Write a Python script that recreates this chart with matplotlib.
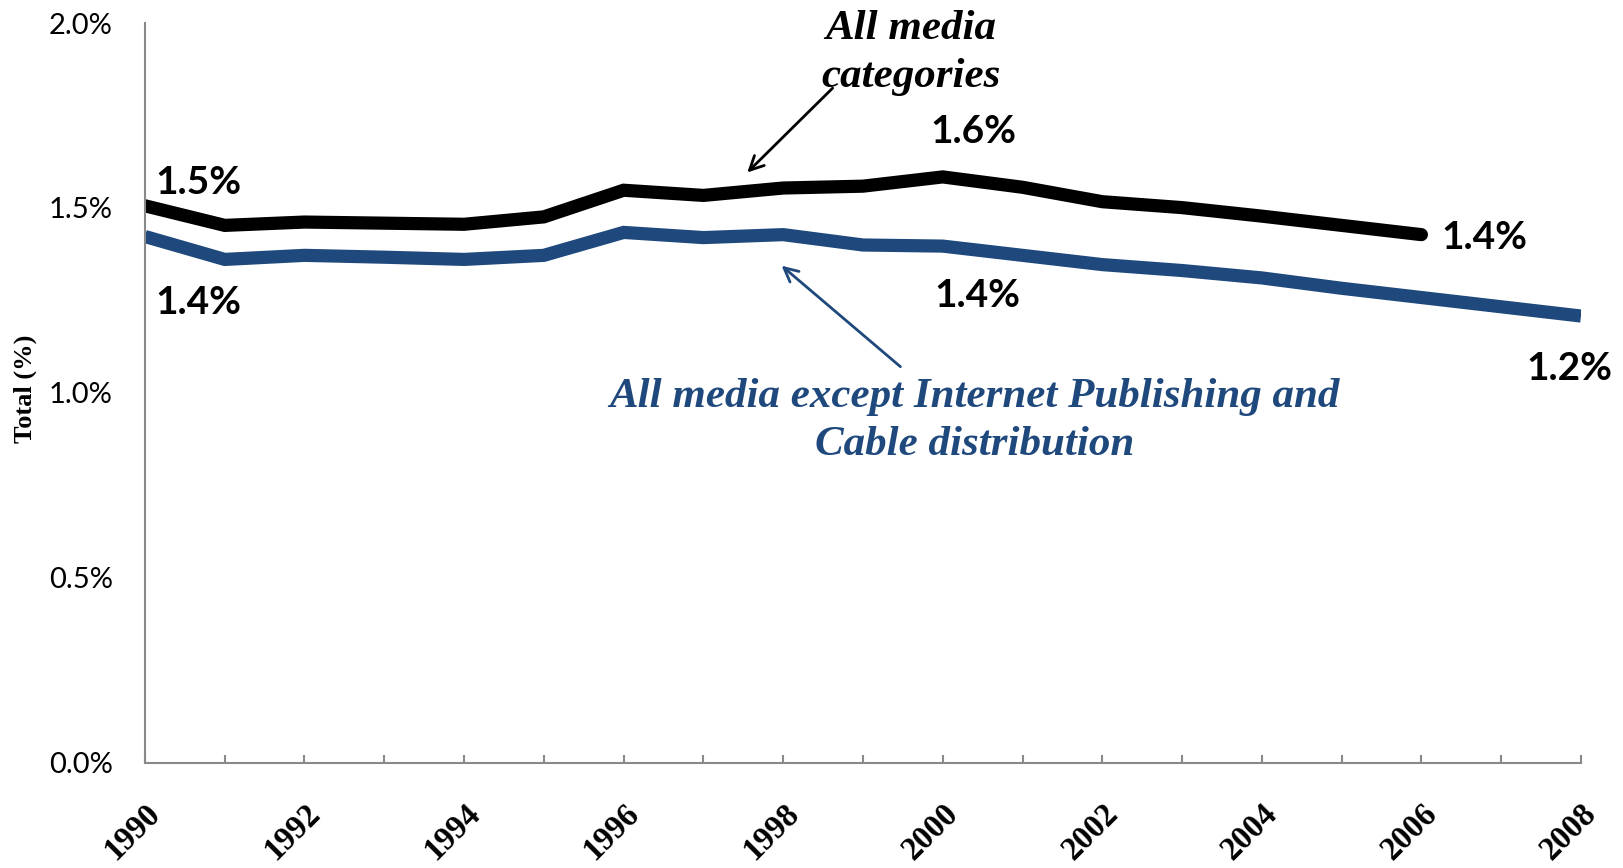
import matplotlib
matplotlib.use("Agg")
import matplotlib.pyplot as plt
import matplotlib.transforms as mtransforms
from matplotlib.ticker import FuncFormatter, MultipleLocator

years = list(range(1990, 2009))
all_media = [1.506, 1.453, 1.462, 1.459, 1.456, 1.476, 1.548, 1.534, 1.554, 1.559,
             1.584, 1.556, 1.517, 1.501, 1.478, 1.453, 1.428]
except_net = [1.423, 1.361, 1.372, 1.367, 1.361, 1.372, 1.434, 1.420, 1.428, 1.400,
              1.397, 1.372, 1.347, 1.331, 1.311, 1.283, 1.258, 1.233, 1.208]
tick_years = list(range(1990, 2009, 2))

black = "#000000"
blue = "#1F497D"
grey = "#898989"
sans = ["Lato", "DejaVu Sans"]
serif = ["Liberation Serif", "DejaVu Serif"]

fig = plt.figure(figsize=(16.23, 8.68), dpi=100)
ax = fig.add_axes([0.0893, 0.121, 0.8848, 0.8525])

ax.plot(years[:len(all_media)], all_media, color=black, lw=9.5, solid_capstyle="round",
        solid_joinstyle="miter")
ax.plot(years, except_net, color=blue, lw=9.5, solid_capstyle="butt",
        solid_joinstyle="miter")

ax.set_xlim(1990, 2008)
ax.set_ylim(0, 2.0)
ax.yaxis.set_major_locator(MultipleLocator(0.5))
ax.yaxis.set_major_formatter(FuncFormatter(lambda v, p: f"{v:.1f}%"))
ax.set_xticks(tick_years)
ax.set_xticks(years, minor=True)
ax.set_xticklabels([str(y) for y in tick_years], rotation=45, ha="right",
                   va="top", rotation_mode="anchor", fontfamily=serif,
                   fontweight="bold", fontsize=23.5)
# nudge the slanted year labels a little to the left, like the original
shift = mtransforms.ScaledTranslation(-6 / 100, 0, fig.dpi_scale_trans)
for lab in ax.get_xticklabels():
    lab.set_transform(lab.get_transform() + shift)
for lab in ax.get_yticklabels():
    lab.set_fontfamily(sans)
    lab.set_fontsize(21)
ax.tick_params(axis="y", length=0, pad=23)
ax.tick_params(axis="x", which="both", direction="in", length=6, color=grey,
               width=1.5, pad=25)
for s in ["top", "right"]:
    ax.spines[s].set_visible(False)
for s in ["left", "bottom"]:
    ax.spines[s].set_color(grey)
    ax.spines[s].set_linewidth(1.5)

ax.set_ylabel("Total (%)", fontfamily=serif, fontweight="bold", fontsize=19)
ax.yaxis.set_label_coords(-0.075, 0.505)

# value labels
lbl = dict(fontfamily=sans, fontweight="bold", fontsize=28, color=black)
ax.text(1990.13, 1.568, "1.5%", ha="left", va="center", **lbl)
ax.text(1990.13, 1.244, "1.4%", ha="left", va="center", **lbl)
ax.text(2000.39, 1.707, "1.6%", ha="center", va="center", **lbl)
ax.text(2000.44, 1.264, "1.4%", ha="center", va="center", **lbl)
ax.text(2006.25, 1.420, "1.4%", ha="left", va="center", **lbl)
ax.text(2008.4, 1.066, "1.2%", ha="right", va="center", **lbl)

# series annotations
ax.text(1999.6, 1.918, "All media\ncategories", ha="center", va="center",
        fontfamily=serif, fontstyle="italic", fontweight="bold", fontsize=31,
        color=black, linespacing=1.35)
ax.annotate("", xy=(1997.55, 1.596), xytext=(1998.62, 1.824),
            arrowprops=dict(arrowstyle="->", color=black, lw=2,
                            shrinkA=0, shrinkB=0, mutation_scale=25))
ax.text(2000.4, 0.925, "All media except Internet Publishing and\nCable distribution",
        ha="center", va="center", fontfamily=serif, fontstyle="italic",
        fontweight="bold", fontsize=31, color=blue, linespacing=1.35)
ax.annotate("", xy=(1997.98, 1.344), xytext=(1999.47, 1.071),
            arrowprops=dict(arrowstyle="->", color=blue, lw=2,
                            shrinkA=0, shrinkB=0, mutation_scale=25))

fig.savefig("out.png", dpi=100)
